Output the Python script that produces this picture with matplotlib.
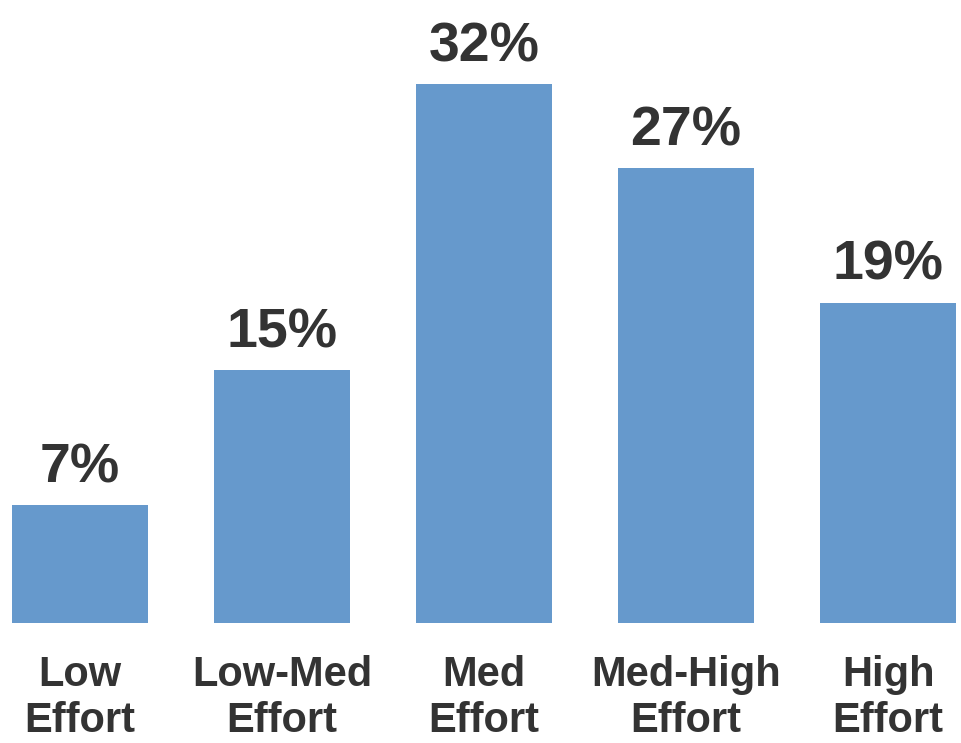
import matplotlib
matplotlib.use("Agg")
import matplotlib.pyplot as plt

categories = ["Low\nEffort", "Low-Med\nEffort", "Med\nEffort", "Med-High\nEffort", "High\nEffort"]
shares = [7, 15, 32, 27, 19]

BAR = "#6699CC"
INK = "#333333"

fig = plt.figure(figsize=(9.61, 7.43), dpi=100)
ax = fig.add_axes([0, 0.1615, 1, 0.8385])

x = range(len(categories))
ax.bar(x, shares, width=0.67, color=BAR)

# value labels above each bar
for xi, v in zip(x, shares):
    ax.annotate(f"{v}%", (xi, v), xytext=(0, 8), textcoords="offset points",
                ha="center", va="bottom", fontsize=40, fontweight="bold",
                color=INK, family="Liberation Sans")

ax.set_xlim(-0.396, 4.361)
ax.set_ylim(0, 37.0)
ax.set_xticks(list(x))
ax.set_xticklabels(categories, fontsize=30, fontweight="bold", color=INK,
                   family="Liberation Sans", linespacing=1.2)
ax.tick_params(axis="x", length=0, pad=23)
ax.tick_params(axis="y", left=False, labelleft=False)
for s in ax.spines.values():
    s.set_visible(False)

fig.savefig("out.png", dpi=100, facecolor="white")
